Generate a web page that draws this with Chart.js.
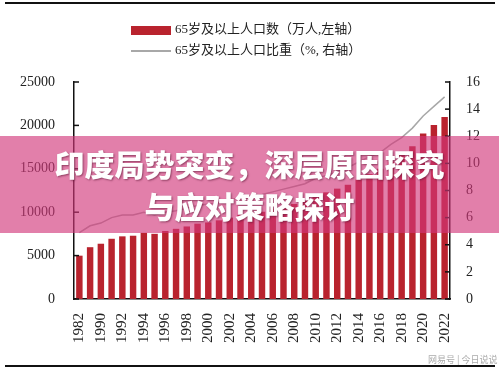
<!DOCTYPE html>
<html>
<head>
<meta charset="utf-8">
<script src="https://cdn.jsdelivr.net/npm/chart.js@4.4.1/dist/chart.umd.min.js"></script>
<style>
  body { margin: 0; background: #fff; }
  #wrap { position: relative; width: 499px; height: 370px; overflow: hidden; font-family: "Liberation Serif", "Noto Sans CJK SC", serif; }
  #chart { position: absolute; left: 0; top: 0; }
  .rule { position: absolute; left: 5px; width: 490px; height: 2px; background: #111; }
  .legend-row { position: absolute; left: 131px; height: 14px; font-size: 13px; color: #222; line-height: 14px; white-space: nowrap; }
  .legend-row .sw { display: inline-block; width: 40px; vertical-align: middle; margin-right: 4px; }
  #banner { position: absolute; left: 0; top: 136px; width: 499px; height: 97px; background: rgba(210, 55, 122, 0.64); }
  #banner div { position: absolute; left: 0; width: 499px; text-align: center; color: #fff; font-family: "Noto Sans CJK SC", sans-serif; font-weight: 900; font-size: 30px; line-height: 36px; text-shadow: 1px 1px 2px rgba(90, 20, 50, 0.6); }
  #mark { position: absolute; left: 428px; top: 353px; font-family: "Noto Sans CJK SC", sans-serif; font-size: 9px; color: #aaa; }
</style>
</head>
<body>
<div id="wrap">
  <canvas id="chart" width="499" height="370"></canvas>
  <div class="rule" style="top:2px"></div>
  <div class="rule" style="top:365px"></div>
  <div class="legend-row" style="top:22px"><span class="sw" style="height:9px;background:#b9232e"></span>65岁及以上人口数（万人,左轴）</div>
  <div class="legend-row" style="top:43px"><span class="sw" style="height:1.5px;background:#a8a8a8"></span>65岁及以上人口比重（%, 右轴）</div>
  <div id="banner">
    <div style="top:9px">印度局势突变，深层原因探究</div>
    <div style="top:51px">与应对策略探讨</div>
  </div>
  <div id="mark">网易号 | 今日说说</div>
</div>
<script>
// tahun sensus / survei
const years = ['1982', '1987', '1990', '1991', '1992', '1993', '1994', '1995', '1996', '1997',
  '1998', '1999', '2000', '2001', '2002', '2003', '2004', '2005', '2006', '2007',
  '2008', '2009', '2010', '2011', '2012', '2013', '2014', '2015', '2016', '2017',
  '2018', '2019', '2020', '2021', '2022'];

// 65岁及以上人口数 (万人)
const elderlyPop = [4991, 5968, 6368, 6938, 7218, 7289, 7622, 7510, 7833, 8085,
  8359, 8679, 8821, 9062, 9377, 9692, 9857, 10055, 10419, 10636,
  10956, 11307, 11894, 12288, 12714, 13161, 13755, 14386, 15003, 15831,
  16658, 17603, 19064, 20056, 20978];

// 65岁及以上人口比重 (%)
const elderlyShare = [4.9, 5.4, 5.6, 6.0, 6.2, 6.2, 6.4, 6.2, 6.4, 6.5,
  6.7, 6.9, 7.0, 7.1, 7.3, 7.5, 7.6, 7.7, 7.9, 8.1,
  8.3, 8.5, 8.9, 9.1, 9.4, 9.7, 10.1, 10.5, 10.8, 11.4,
  11.9, 12.6, 13.5, 14.2, 14.9];

const leftTicks = [0, 5000, 10000, 15000, 20000, 25000];
const rightTicks = [0, 2, 4, 6, 8, 10, 12, 14, 16];

// tick kecil yang mengarah ke dalam
const innerTicks = {
  id: 'innerTicks',
  afterDraw(chart) {
    const ctx = chart.ctx;
    const area = chart.chartArea;
    ctx.save();
    ctx.strokeStyle = '#111';
    ctx.lineWidth = 1.5;
    chart.scales.y.ticks.forEach(t => {
      const py = chart.scales.y.getPixelForValue(t.value);
      ctx.beginPath(); ctx.moveTo(area.left, py); ctx.lineTo(area.left + 5, py); ctx.stroke();
    });
    chart.scales.y1.ticks.forEach(t => {
      const py = chart.scales.y1.getPixelForValue(t.value);
      ctx.beginPath(); ctx.moveTo(area.right - 5, py); ctx.lineTo(area.right, py); ctx.stroke();
    });
    ctx.restore();
  }
};

const tickFont = { family: '"Liberation Serif", serif', size: 14 };

new Chart(document.getElementById('chart'), {
  type: 'bar',
  data: {
    labels: years,
    datasets: [
      { type: 'line', label: '65岁及以上人口比重（%, 右轴）', data: elderlyShare, yAxisID: 'y1',
        borderColor: '#a8a8a8', borderWidth: 1.5, pointRadius: 0, tension: 0, order: 1 },
      { type: 'bar', label: '65岁及以上人口数（万人,左轴）', data: elderlyPop, yAxisID: 'y',
        backgroundColor: '#b9232e', barPercentage: 0.6, categoryPercentage: 1, order: 2 }
    ]
  },
  options: {
    responsive: false,
    animation: false,
    layout: { padding: { top: 82, left: 0, right: 0, bottom: 0 } },
    plugins: { legend: { display: false }, tooltip: { enabled: false } },
    scales: {
      x: {
        grid: { display: false },
        border: { display: true, color: '#111', width: 1.5 },
        ticks: {
          autoSkip: false, minRotation: 90, maxRotation: 90, padding: 6,
          color: '#222', font: { family: '"Liberation Serif", serif', size: 15 },
          callback: (v, i) => (i % 2 === 0 ? years[i] : '')
        },
        afterFit: s => { s.height = 71; }
      },
      y: {
        position: 'left', min: 0, max: 25000,
        grid: { display: false },
        border: { display: true, color: '#111', width: 1.5 },
        afterBuildTicks: s => { s.ticks = leftTicks.map(v => ({ value: v })); },
        ticks: { padding: 11, color: '#222', font: tickFont, callback: v => String(v) },
        afterFit: s => { s.width = 74; }
      },
      y1: {
        position: 'right', min: 0, max: 16,
        grid: { display: false },
        border: { display: true, color: '#111', width: 1.5 },
        afterBuildTicks: s => { s.ticks = rightTicks.map(v => ({ value: v })); },
        ticks: { padding: 8, color: '#222', font: tickFont, callback: v => String(v) },
        afterFit: s => { s.width = 49; }
      }
    }
  },
  plugins: [innerTicks]
});
</script>
</body>
</html>
